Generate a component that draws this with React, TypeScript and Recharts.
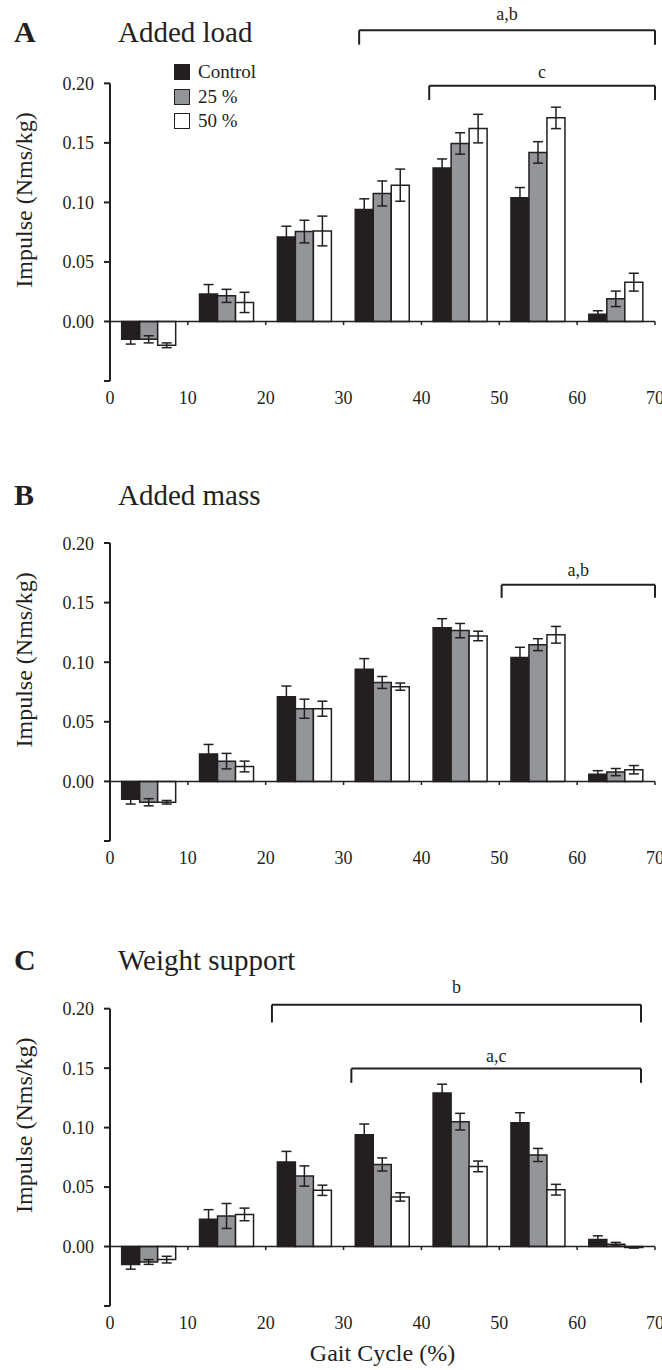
import { Bar, BarChart, ErrorBar, ReferenceDot, ReferenceLine, XAxis, YAxis } from 'recharts'

const INK = '#231f20'
const GREY = '#939598'
const FONT = '"Liberation Serif", "Times New Roman", serif'

const gaitBins = ['0-10', '10-20', '20-30', '30-40', '40-50', '50-60', '60-70']
const binMid = [5, 15, 25, 35, 45, 55, 65]
const gaitTicks = [0, 10, 20, 30, 40, 50, 60, 70]
const impulseTicks = [-0.05, 0, 0.05, 0.1, 0.15, 0.2]
const seriesNames = ['Control', '25 %', '50 %']

// control is the same in all three panels
const control = [-0.015, 0.023, 0.071, 0.094, 0.129, 0.104, 0.006]
const controlErr = [0.004, 0.008, 0.009, 0.009, 0.0075, 0.0085, 0.003]

const load25 = [-0.015, 0.0215, 0.0755, 0.1075, 0.1495, 0.142, 0.019]
const load25Err = [0.003, 0.0055, 0.0095, 0.0105, 0.009, 0.009, 0.0065]
const load50 = [-0.02, 0.016, 0.076, 0.1145, 0.162, 0.171, 0.033]
const load50Err = [0.002, 0.0085, 0.0125, 0.0135, 0.012, 0.009, 0.0075]

const mass25 = [-0.0175, 0.017, 0.061, 0.083, 0.1265, 0.1147, 0.0078]
const mass25Err = [0.003, 0.0065, 0.008, 0.005, 0.006, 0.005, 0.003]
const mass50 = [-0.0175, 0.0125, 0.061, 0.0795, 0.122, 0.123, 0.0098]
const mass50Err = [0.0015, 0.0045, 0.0063, 0.003, 0.004, 0.007, 0.0035]

const support25 = [-0.013, 0.0257, 0.0593, 0.069, 0.105, 0.077, 0.002]
const support25Err = [0.002, 0.0105, 0.0085, 0.0055, 0.007, 0.0055, 0.0015]
const support50 = [-0.011, 0.027, 0.0473, 0.0417, 0.0674, 0.0478, -0.0008]
const support50Err = [0.0028, 0.0053, 0.0043, 0.0035, 0.0045, 0.0045, 0.0005]

// significance brackets, in gait % and impulse units
type Bracket = { from: number; to: number; level: number; drop: number; label: string; labelAt: number }
const loadBrackets: Bracket[] = [
  { from: 32, to: 70, level: 0.2445, drop: 0.012, label: 'a,b', labelAt: 0.2585 },
  { from: 41, to: 70, level: 0.198, drop: 0.012, label: 'c', labelAt: 0.2095 },
]
const massBrackets: Bracket[] = [{ from: 50.3, to: 70, level: 0.165, drop: 0.011, label: 'a,b', labelAt: 0.1775 }]
const supportBrackets: Bracket[] = [
  { from: 20.8, to: 68.2, level: 0.2034, drop: 0.015, label: 'b', labelAt: 0.2185 },
  { from: 31, to: 68.2, level: 0.1496, drop: 0.012, label: 'a,c', labelAt: 0.1605 },
]

interface PanelProps {
  letter: string
  title: string
  top: number
  titleY: number
  marginTop: number
  domainTop: number
  height: number
  low: number[]
  lowErr: number[]
  high: number[]
  highErr: number[]
  brackets: Bracket[]
  xLabel?: string
}

function ImpulseLabel({ viewBox, domainTop }: { viewBox?: { x: number; y: number; height: number }; domainTop: number }) {
  if (!viewBox) return null
  const cx = 24
  const cy = viewBox.y + (viewBox.height * (domainTop - 0.102)) / (domainTop + 0.05)
  return (
    <text
      x={cx}
      y={cy}
      transform={`rotate(-90 ${cx} ${cy})`}
      textAnchor="middle"
      dominantBaseline="central"
      fill={INK}
      fontSize={24}
      fontFamily={FONT}
    >
      Impulse (Nms/kg)
    </text>
  )
}

function Panel(p: PanelProps) {
  const rows = gaitBins.map((bin, i) => ({
    bin,
    mid: binMid[i],
    control: control[i],
    controlErr: controlErr[i],
    low: p.low[i],
    lowErr: p.lowErr[i],
    high: p.high[i],
    highErr: p.highErr[i],
  }))
  const tickStyle = { fill: INK, fontSize: 18, fontFamily: FONT }
  const lineProps = { xAxisId: 'num', stroke: INK, strokeWidth: 2, ifOverflow: 'visible' as const }

  return (
    <>
      <div style={{ position: 'absolute', left: 14, top: p.titleY - 15, fontFamily: FONT, fontSize: 30, fontWeight: 700, lineHeight: '30px', color: INK }}>
        {p.letter}
      </div>
      <div style={{ position: 'absolute', left: 118, top: p.titleY - 15, fontFamily: FONT, fontSize: 29, lineHeight: '30px', color: INK }}>
        {p.title}
      </div>
      <div style={{ position: 'absolute', left: 0, top: p.top }}>
        <BarChart
          width={662}
          height={p.height}
          data={rows}
          margin={{ top: p.marginTop, right: 7, bottom: 0, left: 0 }}
          barCategoryGap="15%"
          barGap={0}
        >
          <XAxis
            xAxisId="num"
            type="number"
            dataKey="mid"
            domain={[0, 70]}
            allowDataOverflow
            ticks={gaitTicks}
            interval={0}
            axisLine={false}
            tickLine={false}
            tickSize={6}
            tickMargin={4}
            height={p.xLabel ? 60 : 30}
            tick={tickStyle}
            label={
              p.xLabel
                ? { value: p.xLabel, position: 'insideBottom', offset: 5, fill: INK, fontSize: 24, fontFamily: FONT }
                : undefined
            }
          />
          <XAxis xAxisId="cat" dataKey="bin" hide height={0} />
          <YAxis
            type="number"
            domain={[-0.05, p.domainTop]}
            ticks={impulseTicks}
            allowDataOverflow
            width={110}
            axisLine={false}
            tickLine={{ stroke: INK, strokeWidth: 2 }}
            tickSize={6}
            tickMargin={10}
            tick={tickStyle}
            tickFormatter={(v: number) => (v < 0 ? '' : v.toFixed(2))}
            label={{ content: (props: any) => <ImpulseLabel viewBox={props.viewBox} domainTop={p.domainTop} /> }}
          />
          <Bar xAxisId="cat" dataKey="control" fill={INK} stroke={INK} strokeWidth={1.5} isAnimationActive={false}>
            <ErrorBar dataKey="controlErr" direction="y" width={5} stroke={INK} strokeWidth={1.5} />
          </Bar>
          <Bar xAxisId="cat" dataKey="low" fill={GREY} stroke={INK} strokeWidth={1.5} isAnimationActive={false}>
            <ErrorBar dataKey="lowErr" direction="y" width={5} stroke={INK} strokeWidth={1.5} />
          </Bar>
          <Bar xAxisId="cat" dataKey="high" fill="#ffffff" stroke={INK} strokeWidth={1.5} isAnimationActive={false}>
            <ErrorBar dataKey="highErr" direction="y" width={5} stroke={INK} strokeWidth={1.5} />
          </Bar>

          <ReferenceLine xAxisId="num" y={0} stroke={INK} strokeWidth={1.5} />
          <ReferenceLine {...lineProps} segment={[{ x: 0, y: -0.05 }, { x: 0, y: 0.2 }]} />
          {gaitTicks.slice(1).map((t) => (
            <ReferenceLine key={t} {...lineProps} strokeWidth={1.5} segment={[{ x: t, y: 0 }, { x: t, y: -0.003 }]} />
          ))}

          {p.brackets.map((b) => [
            <ReferenceLine key={b.label + 'h'} {...lineProps} segment={[{ x: b.from, y: b.level }, { x: b.to, y: b.level }]} />,
            <ReferenceLine key={b.label + 'l'} {...lineProps} segment={[{ x: b.from, y: b.level }, { x: b.from, y: b.level - b.drop }]} />,
            <ReferenceLine key={b.label + 'r'} {...lineProps} segment={[{ x: b.to, y: b.level }, { x: b.to, y: b.level - b.drop }]} />,
            <ReferenceDot
              key={b.label + 't'}
              xAxisId="num"
              x={(b.from + b.to) / 2}
              y={b.labelAt}
              r={0}
              fill="none"
              stroke="none"
              ifOverflow="visible"
              label={{ value: b.label, position: 'center', fill: INK, fontSize: 18, fontFamily: FONT }}
            />,
          ])}
        </BarChart>
      </div>
    </>
  )
}

function SeriesLegend() {
  const swatches = [INK, GREY, '#ffffff']
  return (
    <div style={{ position: 'absolute', left: 174, top: 60, fontFamily: FONT, fontSize: 19, color: INK }}>
      {seriesNames.map((name, i) => (
        <div key={name} style={{ display: 'flex', alignItems: 'center', height: 24.5 }}>
          <span
            style={{
              width: 14,
              height: 14,
              background: swatches[i],
              border: `1.5px solid ${INK}`,
              marginRight: 8,
              display: 'inline-block',
            }}
          />
          <span>{name}</span>
        </div>
      ))}
    </div>
  )
}

export default function App() {
  return (
    <div style={{ position: 'absolute', left: 0, top: 0, width: 662, height: 1370, background: '#fff', overflow: 'hidden' }}>
      <Panel
        letter="A"
        title="Added load"
        top={0}
        titleY={32}
        marginTop={0}
        domainTop={0.27}
        height={411}
        low={load25}
        lowErr={load25Err}
        high={load50}
        highErr={load50Err}
        brackets={loadBrackets}
      />
      <SeriesLegend />
      <Panel
        letter="B"
        title="Added mass"
        top={533}
        titleY={495}
        marginTop={10}
        domainTop={0.2}
        height={338}
        low={mass25}
        lowErr={mass25Err}
        high={mass50}
        highErr={mass50Err}
        brackets={massBrackets}
      />
      <Panel
        letter="C"
        title="Weight support"
        top={963}
        titleY={960}
        marginTop={10}
        domainTop={0.23}
        height={403}
        low={support25}
        lowErr={support25Err}
        high={support50}
        highErr={support50Err}
        brackets={supportBrackets}
        xLabel="Gait Cycle (%)"
      />
    </div>
  )
}
